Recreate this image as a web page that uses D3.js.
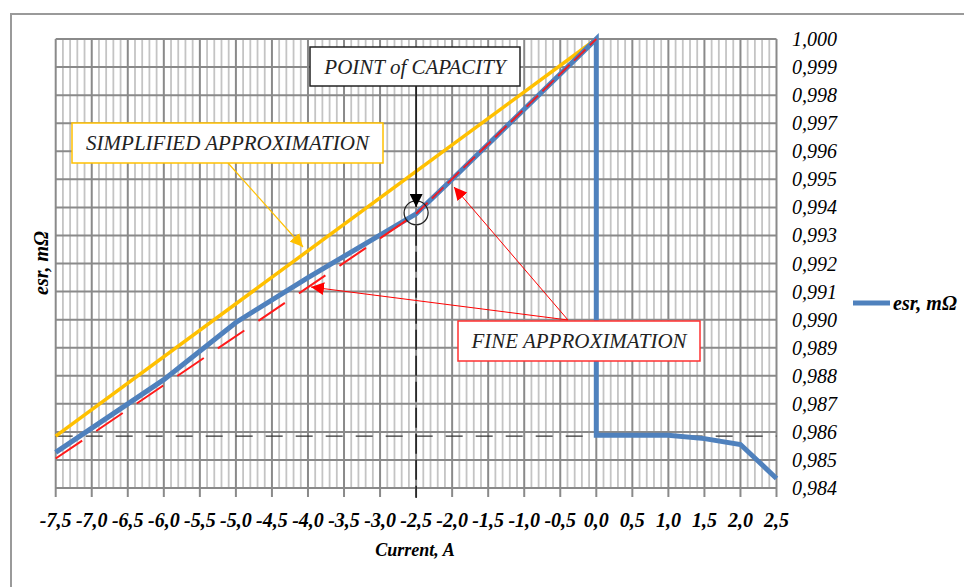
<!DOCTYPE html>
<html lang="en">
<head>
    <meta charset="UTF-8">
    <title>esr vs Current</title>
    <script src="https://d3js.org/d3.v7.min.js"></script>
    <style>
      body { margin: 0; background: #fff; }
      text { font-family: "Liberation Serif", "DejaVu Serif", serif; }
    </style>
</head>
<body>
  <script>

    // ---- data ----
    var xTicks = [-7.5, -7.0, -6.5, -6.0, -5.5, -5.0, -4.5, -4.0, -3.5, -3.0, -2.5, -2.0,
                  -1.5, -1.0, -0.5, 0.0, 0.5, 1.0, 1.5, 2.0, 2.5];
    var yTicks = [0.984, 0.985, 0.986, 0.987, 0.988, 0.989, 0.990, 0.991, 0.992,
                  0.993, 0.994, 0.995, 0.996, 0.997, 0.998, 0.999, 1.000];

    // measured esr curve
    var esrCurrent = [-7.5, -6.0, -5.0, -4.0, -2.5, -2.0, 0.0, 0.0, 1.0, 1.5, 2.0, 2.5];
    var esrValue   = [0.98527, 0.98786, 0.98990, 0.99150, 0.99377, 0.99500, 1.00000,
                      0.98588, 0.98588, 0.98576, 0.98555, 0.98434];

    // simplified approximation (straight line)
    var simpleCurrent = [-7.5, 0.0];
    var simpleValue   = [0.98585, 1.00000];

    // fine approximation (two segments)
    var fineLowCurrent  = [-7.5, -2.5];
    var fineLowValue    = [0.98505, 0.99377];
    var fineHighCurrent = [-2.5, 0.0];
    var fineHighValue   = [0.99377, 1.00000];

    var capacityCurrent = -2.5;
    var capacityValue = 0.99377;
    var levelValue = 0.98585;

    var width = 964, height = 587;

    var svg = d3.select("body")
      .append("svg")
        .attr("width", width)
        .attr("height", height);

    // outer frame (only top and left edges are visible)
    svg.append("path")
        .attr("d", "M11,587 L11,14 L964,14")
        .attr("fill", "none")
        .attr("stroke", "#9a9a9a")
        .attr("stroke-width", 2);

    var x = d3.scaleLinear().domain([-7.5, 2.5]).range([55.7, 776.5]);
    var y = d3.scaleLinear().domain([0.984, 1.000]).range([488, 39]);

    // minor vertical grid every 0.1
    var minor = d3.range(-75, 26).map(function(d) { return d / 10; })
        .filter(function(d) { return Math.round(d * 10) % 5 !== 0; });
    svg.append("g")
      .selectAll("line")
      .data(minor)
      .enter().append("line")
        .attr("x1", function(d) { return x(d); })
        .attr("x2", function(d) { return x(d); })
        .attr("y1", y(1.000))
        .attr("y2", y(0.984))
        .attr("stroke", "#c4c4c4")
        .attr("stroke-width", 1.8);

    // major horizontal grid
    svg.append("g")
      .selectAll("line")
      .data(yTicks)
      .enter().append("line")
        .attr("x1", x(-7.5))
        .attr("x2", x(2.5))
        .attr("y1", function(d) { return y(d); })
        .attr("y2", function(d) { return y(d); })
        .attr("stroke", "#8a8a8a")
        .attr("stroke-width", 2);

    // major vertical grid + ticks below the axis
    svg.append("g")
      .selectAll("line")
      .data(xTicks)
      .enter().append("line")
        .attr("x1", function(d) { return x(d); })
        .attr("x2", function(d) { return x(d); })
        .attr("y1", y(1.000))
        .attr("y2", y(0.984) + 9)
        .attr("stroke", "#8a8a8a")
        .attr("stroke-width", 2);

    // x tick labels
    svg.append("g")
      .selectAll("text")
      .data(xTicks)
      .enter().append("text")
        .attr("x", function(d) { return x(d); })
        .attr("y", 527)
        .attr("text-anchor", "middle")
        .attr("font-size", 20)
        .attr("font-weight", "bold")
        .attr("font-style", "italic")
        .text(function(d) { return d.toFixed(1).replace(".", ","); });

    // y tick labels on the right
    svg.append("g")
      .selectAll("text")
      .data(yTicks)
      .enter().append("text")
        .attr("x", 792)
        .attr("y", function(d) { return y(d); })
        .attr("dy", "0.35em")
        .attr("font-size", 20)
        .attr("font-style", "italic")
        .text(function(d) { return d.toFixed(3).replace(".", ","); });

    // axis titles
    svg.append("text")
        .attr("transform", "translate(48,263) rotate(-90)")
        .attr("text-anchor", "middle")
        .attr("font-size", 20)
        .attr("font-weight", "bold")
        .attr("font-style", "italic")
        .text("esr, mΩ");

    svg.append("text")
        .attr("x", 415)
        .attr("y", 556)
        .attr("text-anchor", "middle")
        .attr("font-size", 18)
        .attr("font-weight", "bold")
        .attr("font-style", "italic")
        .text("Current, A");

    var line = d3.line()
        .x(function(d) { return x(d[0]); })
        .y(function(d) { return y(d[1]); });

    function pairs(a, b) { return a.map(function(v, i) { return [v, b[i]]; }); }

    // horizontal dashed level line
    svg.append("line")
        .attr("x1", x(-7.5)).attr("x2", x(2.5))
        .attr("y1", y(levelValue)).attr("y2", y(levelValue))
        .attr("stroke", "#333")
        .attr("stroke-width", 1.4)
        .attr("stroke-dasharray", "17,13");

    // vertical dashed line at point of capacity
    svg.append("line")
        .attr("x1", x(capacityCurrent)).attr("x2", x(capacityCurrent))
        .attr("y1", y(capacityValue) + 12).attr("y2", 498)
        .attr("stroke", "#111")
        .attr("stroke-width", 1.4)
        .attr("stroke-dasharray", "20,6");

    // simplified approximation
    svg.append("path")
        .attr("d", line(pairs(simpleCurrent, simpleValue)))
        .attr("fill", "none")
        .attr("stroke", "#ffc000")
        .attr("stroke-width", 3.5);

    // esr curve
    svg.append("path")
        .attr("d", line(pairs(esrCurrent, esrValue)))
        .attr("fill", "none")
        .attr("stroke", "#4f81bd")
        .attr("stroke-width", 5);

    // fine approximation
    svg.append("path")
        .attr("d", line(pairs(fineLowCurrent, fineLowValue)))
        .attr("fill", "none")
        .attr("stroke", "#ff1a1a")
        .attr("stroke-width", 2)
        .attr("stroke-dasharray", "32,17");
    svg.append("path")
        .attr("d", line(pairs(fineHighCurrent, fineHighValue)))
        .attr("fill", "none")
        .attr("stroke", "#e8202a")
        .attr("stroke-width", 2)
        .attr("stroke-dasharray", "16,6");

    // circle at point of capacity
    svg.append("circle")
        .attr("cx", x(capacityCurrent))
        .attr("cy", y(capacityValue) - 1)
        .attr("r", 12)
        .attr("fill", "none")
        .attr("stroke", "#222")
        .attr("stroke-width", 1.3);

    // arrow heads
    var defs = svg.append("defs");
    [["arrBlack", "#000"], ["arrRed", "#ff0000"], ["arrYellow", "#ffc000"]].forEach(function(m) {
      defs.append("marker")
          .attr("id", m[0])
          .attr("viewBox", "0 0 10 10")
          .attr("refX", 10).attr("refY", 5)
          .attr("markerWidth", 13).attr("markerHeight", 13)
          .attr("markerUnits", "userSpaceOnUse")
          .attr("orient", "auto")
        .append("path")
          .attr("d", "M0,0 L10,5 L0,10 Z")
          .attr("fill", m[1]);
    });

    function arrow(x1, y1, x2, y2, color, id, w) {
      svg.append("line")
          .attr("x1", x1).attr("y1", y1).attr("x2", x2).attr("y2", y2)
          .attr("stroke", color)
          .attr("stroke-width", w)
          .attr("marker-end", "url(#" + id + ")");
    }

    arrow(x(capacityCurrent), 86, x(capacityCurrent), 207, "#000", "arrBlack", 1.3);
    arrow(228, 163, 303, 247, "#ffc000", "arrYellow", 1.2);
    arrow(568, 320, 454, 187, "#ff0000", "arrRed", 1);
    arrow(568, 320, 311, 287, "#ff0000", "arrRed", 1);

    // annotation boxes
    function box(x0, y0, w, h, color, label) {
      svg.append("rect")
          .attr("x", x0).attr("y", y0)
          .attr("width", w).attr("height", h)
          .attr("fill", "#fff")
          .attr("stroke", color)
          .attr("stroke-width", 1.5);
      svg.append("text")
          .attr("x", x0 + w / 2)
          .attr("y", y0 + h / 2)
          .attr("dy", "0.35em")
          .attr("text-anchor", "middle")
          .attr("font-size", 21)
          .attr("font-style", "italic")
          .attr("fill", "#222")
          .text(label);
    }

    box(310, 47, 210, 39, "#222", "POINT of CAPACITY");
    box(72, 123, 311, 40, "#ffc000", "SIMPLIFIED APPROXIMATION");
    box(458, 321, 242, 40, "#ff3030", "FINE APPROXIMATION");

    // legend
    svg.append("line")
        .attr("x1", 853).attr("x2", 890)
        .attr("y1", 303).attr("y2", 303)
        .attr("stroke", "#4f81bd")
        .attr("stroke-width", 5);
    svg.append("text")
        .attr("x", 893)
        .attr("y", 303)
        .attr("dy", "0.35em")
        .attr("font-size", 20)
        .attr("font-weight", "bold")
        .attr("font-style", "italic")
        .text("esr, mΩ");
  </script>
</body>
</html>
